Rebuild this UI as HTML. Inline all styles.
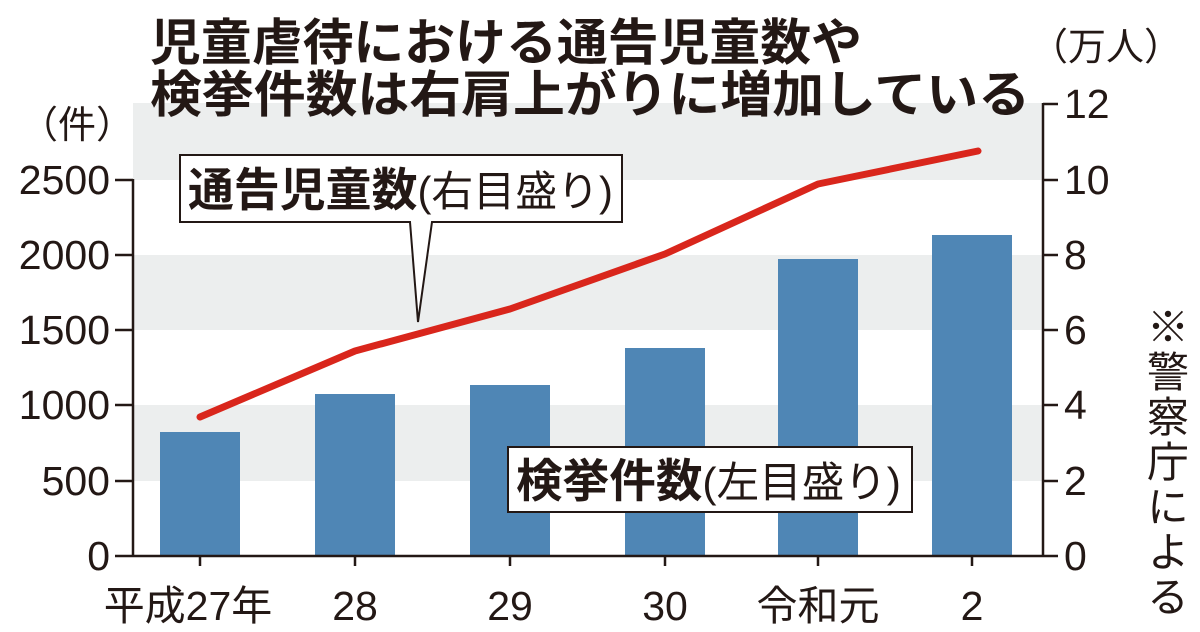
<!DOCTYPE html>
<html><head><meta charset="utf-8"><style>
body{margin:0;background:#fff;}
svg text{font-family:"Liberation Sans","Noto Sans CJK JP",sans-serif;fill:#231815;}
</style></head><body>
<svg width="1200" height="627" xmlns="http://www.w3.org/2000/svg">
<rect x="0" y="0" width="1200" height="627" fill="#fff"/>
<g fill="#eceeee">
<rect x="133" y="103" width="910" height="77"/>
<rect x="133" y="255" width="910" height="75"/>
<rect x="133" y="405" width="910" height="76"/>
</g>
<g fill="#4f86b5">
<rect x="160" y="432" width="80" height="124"/>
<rect x="315" y="394" width="80" height="162"/>
<rect x="470" y="385" width="80" height="171"/>
<rect x="625" y="348" width="80" height="208"/>
<rect x="778" y="259" width="80" height="297"/>
<rect x="932" y="235" width="80" height="321"/>
</g>
<polyline points="200,417 355,351 510,309 665,254 818,184 978,151" fill="none" stroke="#d9261c" stroke-width="7" stroke-linecap="round" stroke-linejoin="round"/>
<g stroke="#231815" stroke-width="2.5" fill="none">
<line x1="133" y1="179" x2="133" y2="557"/>
<line x1="133" y1="556" x2="1043" y2="556"/>
<line x1="1043" y1="103" x2="1043" y2="557"/>
<path d="M115 180H133M115 255H133M115 330H133M115 405H133M115 481H133M115 556H133"/>
<path d="M1043 104H1058M1043 180H1058M1043 255H1058M1043 330H1058M1043 405H1058M1043 481H1058M1043 556H1058"/>
<path d="M200 556V566M355 556V566M510 556V566M665 556V566M818 556V566M972 556V566"/>
</g>
<g font-weight="bold">
<text x="150" y="60" font-size="50" textLength="712" lengthAdjust="spacingAndGlyphs">児童虐待における通告児童数や</text>
<text x="150" y="112" font-size="50" textLength="880" lengthAdjust="spacingAndGlyphs">検挙件数は右肩上がりに増加している</text>
</g>
<g font-size="41" text-anchor="end">
<text x="110" y="194">2500</text>
<text x="110" y="269">2000</text>
<text x="110" y="344">1500</text>
<text x="110" y="419">1000</text>
<text x="110" y="495">500</text>
<text x="110" y="570">0</text>
</g>
<text x="20" y="138" font-size="38">（件）</text>
<g font-size="41">
<text x="1064" y="118">12</text>
<text x="1064" y="194">10</text>
<text x="1064" y="269">8</text>
<text x="1064" y="344">6</text>
<text x="1064" y="419">4</text>
<text x="1064" y="495">2</text>
<text x="1064" y="570">0</text>
</g>
<text x="1030" y="60" font-size="38">（万人）</text>
<g font-size="41" text-anchor="middle">
<text x="188" y="620">平成27年</text>
<text x="355" y="620">28</text>
<text x="510" y="620">29</text>
<text x="665" y="620">30</text>
<text x="818" y="620">令和元</text>
<text x="972" y="620">2</text>
</g>
<text font-size="42" x="1165" y="305" style="writing-mode:vertical-rl;letter-spacing:3px">※警察庁による</text>
<path d="M180 155H622V222H432L418 322L410 222H180Z" fill="#fff" stroke="#231815" stroke-width="2"/>
<text x="188" y="206" font-size="46" font-weight="bold" textLength="425" lengthAdjust="spacingAndGlyphs">通告児童数<tspan font-weight="normal" font-size="42">(右目盛り)</tspan></text>
<rect x="508" y="447" width="404" height="65" fill="#fff" stroke="#231815" stroke-width="2"/>
<text x="516" y="497" font-size="46" font-weight="bold" textLength="385" lengthAdjust="spacingAndGlyphs">検挙件数<tspan font-weight="normal" font-size="42">(左目盛り)</tspan></text>
</svg>
</body></html>
